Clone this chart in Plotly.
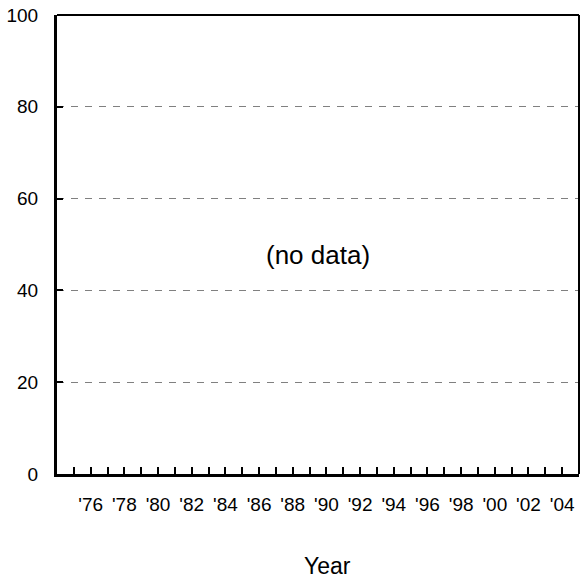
import plotly.graph_objects as go

years = list(range(1975, 2005))
tick_labels = ["'%02d" % (y % 100) if y % 2 == 0 else "" for y in years]
y_ticks = [0, 20, 40, 60, 80, 100]
values = [None] * len(years)

FONT = "Liberation Sans, Arial, sans-serif"

fig = go.Figure()
fig.add_trace(go.Scatter(x=years, y=values, mode="lines", showlegend=False,
                         line=dict(color="black")))

fig.update_layout(
    width=580, height=580,
    margin=dict(l=57, r=1, t=15, b=106),
    paper_bgcolor="white", plot_bgcolor="white",
    font=dict(family=FONT, color="black", size=19),
    showlegend=False,
    xaxis=dict(
        range=[1974, 2005], tickmode="array", tickvals=years, ticktext=tick_labels,
        ticks="inside", ticklen=7, tickwidth=1.5, tickcolor="black",
        showline=True, linewidth=3, linecolor="black",
        showgrid=False, zeroline=False, ticklabelstandoff=11,
        tickfont=dict(family=FONT, size=19, color="black"),
    ),
    yaxis=dict(
        range=[0, 100], tickmode="array", tickvals=y_ticks,
        ticks="inside", ticklen=6, tickwidth=1.5, tickcolor="black",
        showline=True, linewidth=3, linecolor="black",
        showgrid=True, gridcolor="#808080", gridwidth=1, griddash="7px,7px",
        zeroline=False, ticklabelstandoff=12,
        tickfont=dict(family=FONT, size=19, color="black"),
    ),
    shapes=[
        dict(type="line", xref="paper", yref="paper", x0=0, x1=1, y0=1, y1=1,
             line=dict(color="black", width=2), layer="above"),
        dict(type="line", xref="paper", yref="paper", x0=1, x1=1, y0=0, y1=1,
             line=dict(color="black", width=2), layer="above"),
    ],
    annotations=[
        dict(text="(no data)", xref="paper", yref="paper", x=0.5, y=0.477,
             xanchor="center", yanchor="middle", showarrow=False,
             font=dict(family=FONT, size=26, color="black")),
        dict(text="Year", xref="paper", yref="paper", x=0.519, y=-0.2,
             xanchor="center", yanchor="middle", showarrow=False,
             font=dict(family=FONT, size=23, color="black")),
    ],
)

fig.write_html(
    "out.html",
    config={"displayModeBar": False},
    post_script="document.body.style.margin='0';document.body.style.overflow='hidden';",
)
